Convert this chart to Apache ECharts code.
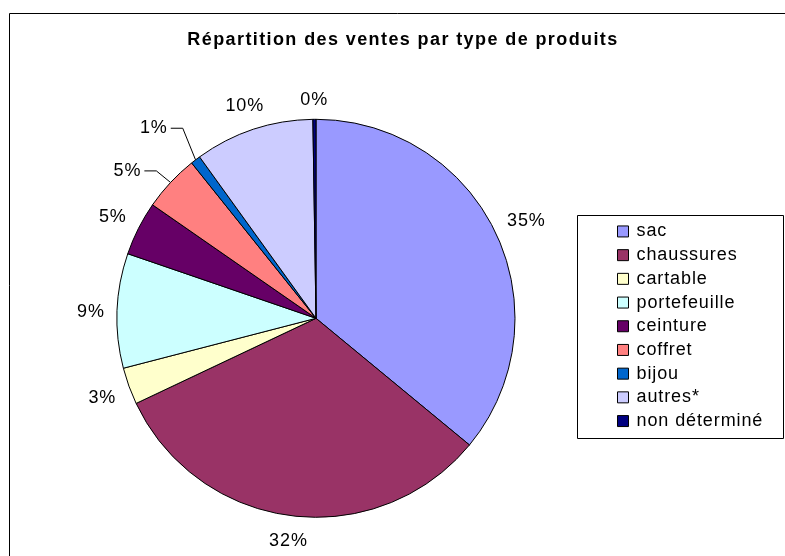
<!DOCTYPE html>
<html>
<head>
<meta charset="utf-8">
<script src="https://cdn.jsdelivr.net/npm/echarts@6/dist/echarts.min.js"></script>
<style>
  html, body { margin: 0; padding: 0; background: #fff; }
  #chart { width: 785px; height: 556px; }
</style>
</head>
<body>
<div id="chart"></div>
<script>
// ---- Data ----
const categories = ['sac', 'chaussures', 'cartable', 'portefeuille', 'ceinture', 'coffret', 'bijou', 'autres*', 'non déterminé'];
const values = [36.0, 32.0, 3.0, 9.3, 4.4, 4.6, 0.8, 9.7, 0.25];
const percentLabels = ['35%', '32%', '3%', '9%', '5%', '5%', '1%', '10%', '0%'];
const colors = ['#9999FF', '#993366', '#FFFFCC', '#CCFFFF', '#660066', '#FF8080', '#0066CC', '#CCCCFF', '#000080'];
const titleText = 'Répartition des ventes par type de produits';

// ---- Presentation ----
// The reference text is drawn with slightly wider glyph spacing; emulate it on the canvas.
(function () {
  const proto = window.CanvasRenderingContext2D && CanvasRenderingContext2D.prototype;
  if (!proto || !('letterSpacing' in proto)) return;
  const desc = Object.getOwnPropertyDescriptor(proto, 'font');
  if (!desc || !desc.set) return;
  Object.defineProperty(proto, 'font', {
    configurable: true,
    get: function () { return desc.get.call(this); },
    set: function (v) {
      desc.set.call(this, v);
      this.letterSpacing = /bold/.test(v) ? '1.4px' : '0.9px';
    }
  });
})();

const FONT = '"Liberation Sans", Arial, sans-serif';
const labelGap = 12;
const labelDy = 2;
const leaderItems = { 5: [-20, 10], 6: [-23, -7] }; // labels moved aside with a leader line

const chart = echarts.init(document.getElementById('chart'), null, { renderer: 'canvas' });

const pieData = categories.map((name, i) => ({
  name: name,
  value: values[i],
  itemStyle: { color: colors[i] },
  labelLine: { show: leaderItems[i] !== undefined }
}));

chart.setOption({
  backgroundColor: '#fff',
  animation: false,
  title: {
    text: titleText,
    left: 403,
    top: 30,
    padding: 0,
    textAlign: 'center',
    textStyle: { fontFamily: FONT, fontSize: 18, fontWeight: 'bold', color: '#000' }
  },
  legend: {
    orient: 'vertical',
    left: 617,
    top: 222,
    padding: 0,
    itemWidth: 11,
    itemHeight: 11,
    itemGap: 4.8,
    icon: 'rect',
    selectedMode: false,
    itemStyle: { borderColor: '#000', borderWidth: 1 },
    textStyle: { fontFamily: FONT, fontSize: 18, lineHeight: 18, color: '#000', padding: [0, 0, 0, 3] },
    data: categories
  },
  graphic: [
    { type: 'rect', shape: { x: 9.5, y: 13.5, width: 800, height: 600 }, style: { fill: 'none', stroke: '#000', lineWidth: 1 }, silent: true, z: -1 },
    { type: 'rect', shape: { x: 577.5, y: 215.5, width: 206, height: 223 }, style: { fill: 'none', stroke: '#000', lineWidth: 1 }, silent: true }
  ],
  series: [{
    type: 'pie',
    center: [316, 318.3],
    radius: 199,
    startAngle: 90,
    clockwise: true,
    avoidLabelOverlap: false,
    data: pieData,
    itemStyle: { borderColor: '#000', borderWidth: 1 },
    emphasis: { disabled: true },
    label: {
      show: true,
      position: 'outside',
      fontFamily: FONT,
      fontSize: 18,
      color: '#000',
      formatter: p => percentLabels[p.dataIndex]
    },
    labelLine: { show: false, length: 10, length2: 10, lineStyle: { color: '#000', width: 1 } },
    labelLayout: function (p) {
      const data = chart.getModel().getSeriesByIndex(0).getData();
      const lay = data.getItemLayout(p.dataIndex);
      const mid = (lay.startAngle + lay.endAngle) / 2;
      const ux = Math.cos(mid), uy = Math.sin(mid);
      const w = p.labelRect.width, h = p.labelRect.height;
      const ext = Math.abs(ux) * w / 2 + Math.abs(uy) * h / 2;
      const res = { align: 'center', verticalAlign: 'middle' };
      const shift = leaderItems[p.dataIndex];
      let lx, ly;
      if (shift) {
        lx = lay.cx + ux * (lay.r + 15 + ext) + shift[0];
        ly = lay.cy + uy * (lay.r + 15 + ext) + shift[1];
        const ex = lay.cx + ux * lay.r, ey = lay.cy + uy * lay.r;
        const right = lx + w / 2;
        res.labelLinePoints = [[ex, ey], [right + 15, ly], [right + 3, ly]];
      } else {
        lx = lay.cx + ux * (lay.r + labelGap + ext);
        ly = lay.cy + uy * (lay.r + labelGap + ext) + labelDy;
      }
      res.x = lx;
      res.y = ly;
      return res;
    }
  }]
});
</script>
</body>
</html>
